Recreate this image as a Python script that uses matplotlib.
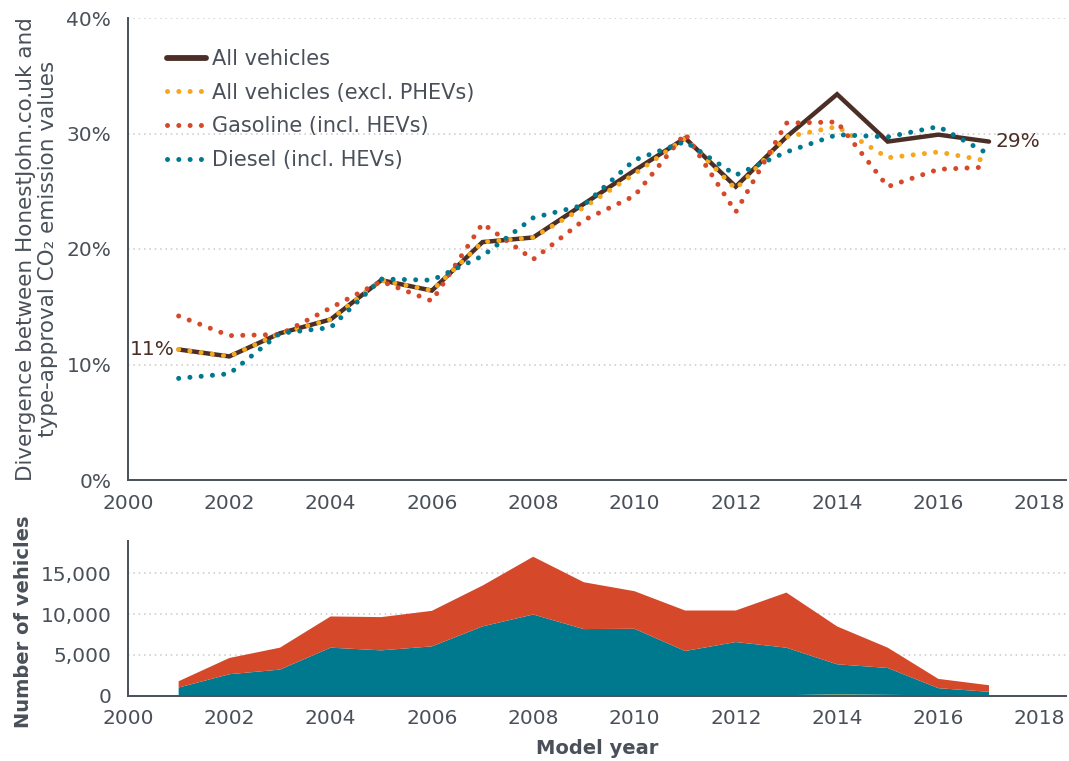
import matplotlib
matplotlib.use('Agg')
import matplotlib.pyplot as plt
from matplotlib.ticker import FuncFormatter, FixedLocator
from matplotlib.lines import Line2D

# ---------------- data ----------------
years = list(range(2001, 2018))
all_vehicles = [11.3, 10.7, 12.7, 13.9, 17.3, 16.4, 20.6, 21.0, 23.9, 26.8, 29.6, 25.4, 29.7, 33.4, 29.3, 29.9, 29.3]
all_excl_phev = [11.3, 10.7, 12.7, 13.9, 17.3, 16.4, 20.6, 21.0, 23.6, 26.5, 29.6, 25.2, 29.7, 30.6, 27.9, 28.4, 27.6]
gasoline = [14.2, 12.5, 12.6, 14.9, 17.2, 15.5, 22.2, 19.1, 22.5, 24.6, 30.0, 23.2, 30.9, 31.0, 25.4, 26.9, 27.1]
diesel = [8.8, 9.2, 12.7, 13.2, 17.4, 17.3, 19.4, 22.7, 23.8, 27.7, 29.3, 26.4, 28.4, 29.9, 29.7, 30.6, 28.2]

phev_n = [0, 0, 0, 0, 0, 0, 0, 0, 0, 0, 0, 20, 40, 150, 80, 20, 10]
diesel_n = [980, 2610, 3180, 5870, 5540, 6030, 8480, 9940, 8150, 8190, 5460, 6540, 5830, 3680, 3300, 880, 440]
gasoline_n = [770, 1990, 2690, 3830, 4080, 4360, 5010, 7090, 5750, 4610, 4970, 3870, 6760, 4650, 2490, 1140, 810]

x_ticks = list(range(2000, 2019, 2))
pct_ticks = [0, 10, 20, 30, 40]
n_ticks = [0, 5000, 10000, 15000]

series_labels = ["All vehicles", "All vehicles (excl. PHEVs)", "Gasoline (incl. HEVs)", "Diesel (incl. HEVs)"]

# ---------------- style ----------------
FONT = ['DejaVu Sans']
plt.rcParams['font.family'] = FONT
TXT = '#4a5059'
BROWN = '#4b2e25'
ORANGE = '#f5a81c'
RED = '#d5492a'
TEAL = '#00798f'
GRID = '#c9c9c9'

W, H = 1069, 761
fig = plt.figure(figsize=(W / 100, H / 100), dpi=100)

ax = fig.add_axes([128 / W, 1 - 480 / H, 938 / W, 462 / H])
ax2 = fig.add_axes([128 / W, 1 - 695.5 / H, 938 / W, 154.5 / H])

dot = (0, (0.01, 2.25))
lw_dot = 3.6

ax.plot(years, all_vehicles, color=BROWN, lw=3.2, solid_capstyle='round', solid_joinstyle='miter', zorder=3)
ax.plot(years, all_excl_phev, color=ORANGE, lw=lw_dot, ls=dot, dash_capstyle='round', zorder=4)
ax.plot(years, gasoline, color=RED, lw=lw_dot, ls=dot, dash_capstyle='round', zorder=4)
ax.plot(years, diesel, color=TEAL, lw=lw_dot, ls=dot, dash_capstyle='round', zorder=4)

ax.set_xlim(2000, 2018.52)
ax.set_ylim(0, 40)
ax.yaxis.set_major_locator(FixedLocator(pct_ticks))
ax.xaxis.set_major_locator(FixedLocator(x_ticks))
ax.yaxis.set_major_formatter(FuncFormatter(lambda v, p: f"{v:.0f}%"))
ax.grid(axis='y', color=GRID, ls=(0, (1, 2.5)), lw=1.1)
ax.set_axisbelow(True)
for s in ['top', 'right']:
    ax.spines[s].set_visible(False)
for s in ['left', 'bottom']:
    ax.spines[s].set_color(TXT)
    ax.spines[s].set_linewidth(1.4)
ax.tick_params(axis='both', length=0, labelsize=14.5, colors=TXT)
ax.tick_params(axis='y', pad=12)
ax.tick_params(axis='x', pad=10)

ax.set_ylabel("Divergence between HonestJohn.co.uk and\ntype-approval CO\u2082 emission values",
              fontsize=15.5, color=TXT, fontweight='normal', linespacing=1.12)
ax.yaxis.set_label_coords(-0.075, 0.5)

# annotations
ax.annotate(f"{all_vehicles[0]:.0f}%", xy=(years[0], all_vehicles[0]), xytext=(-3, 0),
            textcoords='offset points', ha='right', va='center', fontsize=14.5,
            color=BROWN)
ax.annotate(f"{all_vehicles[-1]:.0f}%", xy=(years[-1], all_vehicles[-1]), xytext=(5, 0),
            textcoords='offset points', ha='left', va='center', fontsize=14.5,
            color=BROWN)

# legend
handles = [
    Line2D([], [], color=BROWN, lw=4.2, solid_capstyle='round'),
    Line2D([], [], color=ORANGE, lw=lw_dot, ls=dot, dash_capstyle='round'),
    Line2D([], [], color=RED, lw=lw_dot, ls=dot, dash_capstyle='round'),
    Line2D([], [], color=TEAL, lw=lw_dot, ls=dot, dash_capstyle='round'),
]
leg = ax.legend(handles, series_labels, loc='upper left', bbox_to_anchor=(0.033, 0.951),
                frameon=False, fontsize=15, handlelength=1.85, handletextpad=0.3,
                labelspacing=0.66, borderaxespad=0)
for t in leg.get_texts():
    t.set_color(TXT)

# ---------------- bottom ----------------
ax2.stackplot(years, phev_n, diesel_n, gasoline_n, colors=['#9a9a3a', TEAL, RED],
              edgecolor='none', zorder=2)
ax2.set_xlim(2000, 2018.52)
ax2.set_ylim(0, 18960)
ax2.yaxis.set_major_locator(FixedLocator(n_ticks))
ax2.xaxis.set_major_locator(FixedLocator(x_ticks))
ax2.yaxis.set_major_formatter(FuncFormatter(lambda v, p: f"{int(v):,}"))
ax2.grid(axis='y', color=GRID, ls=(0, (1, 2.5)), lw=1.1)
ax2.set_axisbelow(True)
for s in ['top', 'right']:
    ax2.spines[s].set_visible(False)
for s in ['left', 'bottom']:
    ax2.spines[s].set_color(TXT)
    ax2.spines[s].set_linewidth(1.4)
ax2.spines['bottom'].set_zorder(5)
ax2.tick_params(axis='both', length=0, labelsize=14.5, colors=TXT)
ax2.tick_params(axis='y', pad=12)
ax2.tick_params(axis='x', pad=10)
ax2.set_ylabel("Number of vehicles", fontsize=14, color=TXT, fontweight='bold')
ax2.yaxis.set_label_coords(-0.101, 0.48)
ax2.set_xlabel("Model year", fontsize=14, color=TXT, fontweight='bold', labelpad=8)

fig.savefig('out.png', dpi=100, facecolor='white')
